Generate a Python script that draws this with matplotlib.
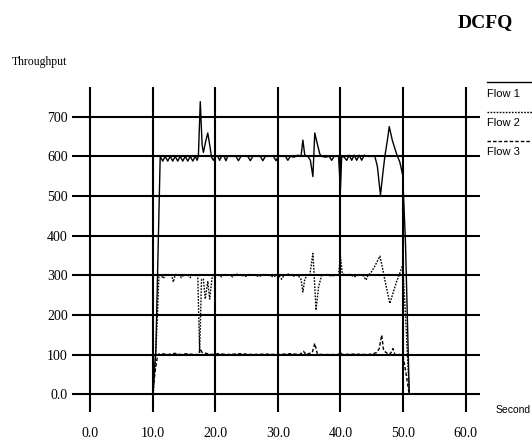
import matplotlib.pyplot as plt
from matplotlib.lines import Line2D

# flow 1 (solid)
t1 = [10.0, 10.5, 11.2, 11.6, 12.0, 12.4, 12.8, 13.2, 13.6, 14.0, 14.4, 14.8, 15.2, 15.6,
      16.0, 16.4, 16.8, 17.1, 17.3, 17.6, 17.9, 18.1, 18.5, 18.8, 19.1, 19.4, 19.7, 20.0,
      20.4, 20.7, 21.0, 21.4, 21.7, 22.0, 23.3, 23.7, 24.1, 25.2, 25.6, 26.0, 27.2, 27.6,
      28.0, 29.3, 29.7, 30.1, 31.2, 31.6, 32.0, 32.6, 33.2, 33.7, 34.0, 34.3, 34.8, 35.2,
      35.6, 35.9, 36.3, 36.7, 37.0, 37.6, 38.2, 38.6, 39.0, 39.7, 40.0, 40.2, 40.6, 41.0,
      41.4, 41.8, 42.2, 42.6, 43.0, 43.4, 43.8, 44.2, 45.5, 45.9, 46.4, 46.8, 47.1, 47.5,
      47.8, 48.3, 49.0, 49.5, 49.95, 50.4, 51.0]
flow1 = [0, 110, 600, 588, 600, 588, 600, 588, 600, 588, 600, 588, 600, 588,
         600, 588, 600, 590, 600, 738, 628, 610, 640, 659, 630, 598, 590, 600,
         600, 590, 600, 600, 589, 600, 600, 589, 600, 600, 589, 600, 600, 589,
         600, 600, 589, 600, 600, 590, 600, 598, 603, 600, 641, 603, 600, 590,
         549, 659, 632, 606, 600, 598, 600, 590, 600, 600, 515, 600, 598, 590,
         603, 590, 603, 590, 603, 590, 603, 600, 600, 575, 502, 560, 600, 640,
         675, 640, 605, 585, 553, 380, 0]

# flow 2 (dotted)
t2 = [10.1, 10.6, 11.0, 11.3, 11.7, 12.1, 12.6, 13.0, 13.3, 13.6, 14.2, 14.6, 15.0, 15.6,
      16.0, 16.4, 16.9, 17.2, 17.5, 17.8, 18.1, 18.4, 18.8, 19.1, 19.5, 19.8, 20.5, 21.0,
      21.5, 22.3, 22.8, 23.3, 24.2, 24.8, 25.4, 26.3, 27.0, 27.8, 28.6, 29.3, 30.0, 30.6,
      31.0, 31.8, 32.5, 33.2, 33.7, 34.0, 34.3, 34.7, 35.1, 35.6, 35.8, 36.1, 36.5, 37.0,
      37.8, 38.5, 39.2, 39.7, 40.0, 40.3, 40.8, 41.5, 42.2, 42.8, 43.5, 44.1, 44.4, 44.8,
      45.4, 46.3, 46.7, 47.2, 47.9, 48.4, 49.0, 49.6, 49.95, 50.4, 51.0]
flow2 = [0, 140, 300, 300, 292, 302, 300, 300, 283, 302, 300, 294, 302, 300,
         294, 302, 300, 300, 105, 290, 290, 240, 285, 240, 295, 303, 300, 296,
         302, 300, 296, 303, 300, 297, 302, 300, 297, 302, 300, 296, 302, 290,
         300, 303, 298, 300, 290, 258, 290, 300, 300, 355, 300, 212, 270, 300,
         302, 298, 300, 300, 347, 305, 300, 302, 296, 300, 302, 288, 300, 305,
         320, 348, 320, 280, 229, 255, 285, 310, 326, 200, 0]

# flow 3 (dashed)
t3 = [10.0, 10.4, 10.8, 11.5, 12.5, 13.5, 14.5, 15.5, 16.5, 17.3, 17.6, 17.9, 18.5, 19.5,
      20.5, 22.0, 24.0, 26.0, 28.0, 30.0, 32.0, 33.5, 34.1, 34.5, 35.5, 35.9, 36.3, 37.0,
      39.7, 40.0, 40.3, 42.0, 44.5, 45.2, 45.8, 46.2, 46.6, 46.9, 47.3, 47.8, 48.1, 48.4,
      48.7, 49.5, 50.0, 50.5, 51.0]
flow3 = [0, 60, 100, 102, 100, 103, 100, 102, 100, 100, 115, 105, 103, 100,
         102, 100, 102, 100, 101, 100, 102, 100, 108, 100, 105, 128, 102, 100,
         100, 105, 100, 101, 100, 102, 105, 115, 149, 110, 105, 100, 105, 115,
         100, 100, 98, 50, 0]

xticks = [0, 10, 20, 30, 40, 50, 60]
xlabels = ["0.0", "10.0", "20.0", "30.0", "40.0", "50.0", "60.0"]
yticks = [0, 100, 200, 300, 400, 500, 600, 700]
ylabels = ["0.0", "100", "200", "300", "400", "500", "600", "700"]

num_font = "Liberation Serif"
dot_style = (0, (1.2, 1.0))
dash_style = (0, (2.5, 1.5))

fig = plt.figure(figsize=(5.32, 4.42), dpi=100)
ax = fig.add_axes([0.1353, 0.0679, 0.7669, 0.7353])

ax.plot(t1, flow1, color="black", lw=1.0, linestyle="-")
ax.plot(t2, flow2, color="black", lw=1.0, linestyle=dot_style)
ax.plot(t3, flow3, color="black", lw=1.0, linestyle=dash_style)

ax.set_xlim(-2.9, 62.3)
ax.set_ylim(-45, 775)
ax.set_xticks(xticks)
ax.set_xticklabels(xlabels, fontsize=10, family=num_font)
ax.set_yticks(yticks)
ax.set_yticklabels(ylabels, fontsize=10, family=num_font)
ax.tick_params(axis="both", length=0)
ax.tick_params(axis="x", pad=11)
ax.tick_params(axis="y", pad=3)
ax.grid(True, color="black", lw=1.5)
ax.set_axisbelow(True)
for s in ax.spines.values():
    s.set_visible(False)

fig.text(0.0226, 0.86, "Throughput", fontsize=8.5, family=num_font, va="center", ha="left")
fig.text(0.931, 0.0724, "Second", fontsize=7.5, family="Liberation Sans", va="center", ha="left")
fig.text(0.912, 0.948, "DCFQ", fontsize=14, family="Liberation Serif", weight="bold",
         va="center", ha="center")

# legend, lines above the labels
leg_styles = ["-", dot_style, dash_style]
leg_names = ["Flow 1", "Flow 2", "Flow 3"]
leg_line_y = [0.8145, 0.7473, 0.6817]
leg_text_y = [0.787, 0.721, 0.657]
for st, nm, ly, ty in zip(leg_styles, leg_names, leg_line_y, leg_text_y):
    fig.add_artist(Line2D([0.915, 1.0], [ly, ly], transform=fig.transFigure,
                          color="black", lw=1.0, linestyle=st))
    fig.text(0.916, ty, nm, fontsize=8, family="Liberation Sans", va="center", ha="left")

fig.savefig("out.png", dpi=100)
